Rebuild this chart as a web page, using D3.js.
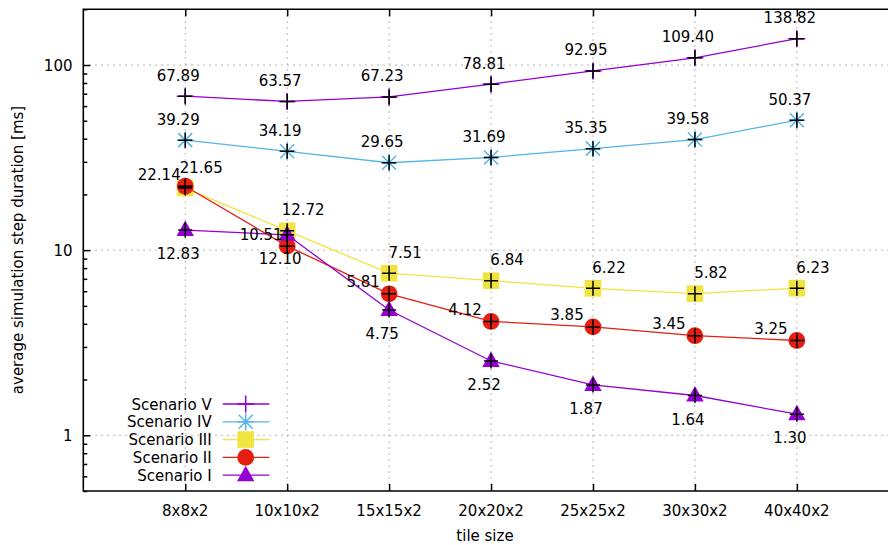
<!DOCTYPE html>
<html><head><meta charset="utf-8">
<script src="https://cdn.jsdelivr.net/npm/d3@7"></script>
<style>
body{margin:0;background:#fff}
text{font-family:"DejaVu Sans",sans-serif;font-size:15px;fill:#000}
</style>
</head><body>
<svg id="c" width="888" height="545"></svg>
<script>
const categories = ["8x8x2","10x10x2","15x15x2","20x20x2","25x25x2","30x30x2","40x40x2"];
const scenarioV   = [67.89, 63.57, 67.23, 78.81, 92.95, 109.40, 138.82];
const scenarioIV  = [39.29, 34.19, 29.65, 31.69, 35.35, 39.58, 50.37];
const scenarioIII = [21.65, 12.72, 7.51, 6.84, 6.22, 5.82, 6.23];
const scenarioII  = [22.14, 10.51, 5.81, 4.12, 3.85, 3.45, 3.25];
const scenarioI   = [12.83, 12.10, 4.75, 2.52, 1.87, 1.64, 1.30];
const seriesNames = ["Scenario V","Scenario IV","Scenario III","Scenario II","Scenario I"];
const yTickValues = [1, 10, 100];
const yMinorValues = [0.5,0.6,0.7,0.8,0.9,2,3,4,5,6,7,8,9,20,30,40,50,60,70,80,90,200];

const series = [
  {name: seriesNames[0], values: scenarioV,   color: "#9400d3", marker: "plus",     lx: -7,  ly: -15.5},
  {name: seriesNames[1], values: scenarioIV,  color: "#56b4e9", marker: "star",     lx: -7,  ly: -15.5},
  {name: seriesNames[2], values: scenarioIII, color: "#f0e442", marker: "square",   lx: 16,  ly: -15.5},
  {name: seriesNames[3], values: scenarioII,  color: "#e51e10", marker: "circle",   lx: -26, ly: -6.5},
  {name: seriesNames[4], values: scenarioI,   color: "#9400d3", marker: "triangle", lx: -7,  ly: 29}
];

const svg = d3.select("#c");
const pLeft = 83.3, pRight = 898.8, pTop = 9.3, pBottom = 491;
const x = d3.scaleLinear().domain([-1, categories.length]).range([pLeft, pRight]);
const y = d3.scaleLog().domain([0.5, 200]).range([pBottom, pTop]);

// grid
const grid = svg.append("g").attr("stroke", "#a0a0a0").attr("stroke-width", 1).attr("stroke-dasharray", "1.5,4.5");
yTickValues.forEach(v => grid.append("line").attr("x1", pLeft).attr("x2", 888).attr("y1", y(v)).attr("y2", y(v)));
categories.forEach((c, i) => grid.append("line").attr("x1", x(i)).attr("x2", x(i)).attr("y1", pTop).attr("y2", pBottom));

// axes with ticks inward
const axL = d3.axisRight(y).tickValues(yTickValues).tickSize(7).tickFormat("");
const gL = svg.append("g").attr("transform", `translate(${pLeft},0)`).call(axL);
gL.select(".domain").remove();
const axLm = d3.axisRight(y).tickValues(yMinorValues).tickSize(4).tickFormat("");
const gLm = svg.append("g").attr("transform", `translate(${pLeft},0)`).call(axLm);
gLm.select(".domain").remove();
const axB = d3.axisTop(x).tickValues(d3.range(categories.length)).tickSize(7).tickFormat("");
const gB = svg.append("g").attr("transform", `translate(0,${pBottom})`).call(axB);
gB.select(".domain").remove();
const axT = d3.axisBottom(x).tickValues(d3.range(categories.length)).tickSize(7).tickFormat("");
const gT = svg.append("g").attr("transform", `translate(0,${pTop})`).call(axT);
gT.select(".domain").remove();
svg.selectAll(".tick line").attr("stroke", "#000").attr("stroke-width", 1.5);

// border
const border = svg.append("g").attr("stroke", "#000").attr("stroke-width", 1.6).attr("fill", "none");
border.append("path").attr("d", `M${pRight},${pTop}H${pLeft}V${pBottom}H${pRight}`);

// tick labels
yTickValues.forEach(v => svg.append("text").attr("x", 72.5).attr("y", y(v) + 5.5).attr("text-anchor", "end").text(d3.format("d")(v)));
categories.forEach((c, i) => svg.append("text").attr("x", x(i)).attr("y", 515.5).attr("text-anchor", "middle").text(c));
svg.append("text").attr("x", 485).attr("y", 541).attr("text-anchor", "middle").text("tile size");
svg.append("text").attr("transform", "translate(23,250) rotate(-90)").attr("text-anchor", "middle").text("average simulation step duration [ms]");

function drawMarker(g, type, cx, cy, color) {
  if (type === "plus") {
    g.append("path").attr("d", `M${cx-8.5},${cy}H${cx+8.5}M${cx},${cy-8.5}V${cy+8.5}`).attr("stroke", color).attr("stroke-width", 1.5).attr("fill", "none");
  } else if (type === "star") {
    const s = 8.5;
    g.append("path").attr("d", `M${cx-s},${cy}H${cx+s}M${cx},${cy-s}V${cy+s}M${cx-s+1.5},${cy-s+1.5}L${cx+s-1.5},${cy+s-1.5}M${cx-s+1.5},${cy+s-1.5}L${cx+s-1.5},${cy-s+1.5}`).attr("stroke", color).attr("stroke-width", 1.5).attr("fill", "none");
  } else if (type === "square") {
    g.append("rect").attr("x", cx-8.3).attr("y", cy-8.3).attr("width", 16.6).attr("height", 16.6).attr("fill", color);
  } else if (type === "circle") {
    g.append("circle").attr("cx", cx).attr("cy", cy).attr("r", 8.4).attr("fill", color);
  } else if (type === "triangle") {
    g.append("path").attr("d", `M${cx},${cy-9.5}L${cx+8.7},${cy+6}L${cx-8.7},${cy+6}Z`).attr("fill", color);
  }
}

// series
const line = d3.line().x((d, i) => x(i)).y(d => y(d));
series.forEach(s => {
  const g = svg.append("g");
  g.append("path").attr("d", line(s.values)).attr("fill", "none").attr("stroke", s.color).attr("stroke-width", 1.3);
  s.values.forEach((v, i) => drawMarker(g, s.marker, x(i), y(v), s.color));
});

// labels with black plus points
const fmt = d3.format(".2f");
series.forEach(s => {
  const g = svg.append("g");
  s.values.forEach((v, i) => {
    const cx = x(i), cy = y(v);
    g.append("path").attr("d", `M${cx-7},${cy}H${cx+7}M${cx},${cy-7.5}V${cy+7.5}`).attr("stroke", "#000").attr("stroke-width", 1.5).attr("fill", "none");
    g.append("text").attr("x", cx + s.lx).attr("y", cy + s.ly).attr("text-anchor", "middle").text(fmt(v));
  });
});

// legend
const legendY = [404, 421.8, 439.6, 457.4, 475.2];
series.forEach((s, k) => {
  const g = svg.append("g");
  const ly = legendY[k];
  g.append("text").attr("x", 211.7).attr("y", ly + 5.5).attr("text-anchor", "end").text(s.name);
  g.append("line").attr("x1", 222.7).attr("x2", 269.3).attr("y1", ly).attr("y2", ly).attr("stroke", s.color).attr("stroke-width", 1.3);
  drawMarker(g, s.marker, 245.7, ly, s.color);
});
</script>
</body></html>
